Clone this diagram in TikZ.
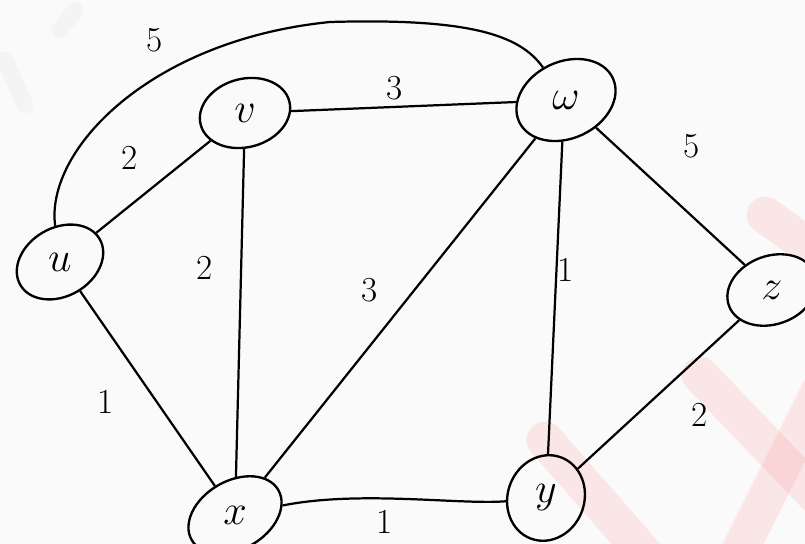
\RequirePackage{fix-cm}
\documentclass[tikz,border=0pt]{standalone}
\usetikzlibrary{shapes.geometric}
\begin{document}
\begin{tikzpicture}[x=0.03cm,y=-0.03cm,
  vtx/.style={draw,ellipse,line width=2pt,inner sep=0pt,minimum width=2.75cm,minimum height=2.05cm,font=\fontsize{36}{38}\selectfont},
  edge/.style={line width=1.9pt},
  wt/.style={font=\fontsize{30}{32}\selectfont},
  mark1/.style={line width=1.1cm,red!60!pink,opacity=0.11,line cap=round},
  mark2/.style={line width=0.5cm,black,opacity=0.025,line cap=round}]
\useasboundingbox (0,0) rectangle (805,544);
\clip (0,0) rectangle (805,544);
\fill[gray!4] (0,0) rectangle (805,544);
% faint watermark strokes
\draw[mark1] (545,440) -- (650,560);
\draw[mark1] (700,375) -- (820,500);
\draw[mark1] (735,560) -- (820,390);
\draw[mark1] (765,215) -- (800,240);
\draw[mark2] (60,30) -- (75,10);
\draw[mark2] (5,60) -- (25,105);
% vertices
\node[vtx,rotate=30] (u) at (60,262) {\rotatebox{-30}{$u$}};
\node[vtx,rotate=15] (v) at (245,113) {\rotatebox{-15}{$v$}};
\node[vtx,rotate=25,minimum width=3.1cm,minimum height=2.3cm] (w) at (566,100) {\rotatebox{-25}{$\omega$}};
\node[vtx,rotate=20] (z) at (772,290) {\rotatebox{-20}{$z$}};
\node[vtx,rotate=30,minimum width=3.0cm] (x) at (235,515) {\rotatebox{-30}{$x$}};
\node[vtx,rotate=70,minimum width=2.6cm,minimum height=2.3cm] (y) at (546,498) {\rotatebox{-70}{$y$}};
% edges
\draw[edge] (u) .. controls (45,150) and (150,40) .. (330,22) .. controls (470,18) and (520,35) .. (w);
\draw[edge] (u) -- (v);
\draw[edge] (v) -- (w);
\draw[edge] (v) -- (x);
\draw[edge] (x) -- (w);
\draw[edge] (w.240) -- (y);
\draw[edge] (w) -- (z);
\draw[edge] (z) -- (y);
\draw[edge] (x) .. controls (360,490) and (460,505) .. (y);
\draw[edge] (u) -- (x);
% weights
\node[wt] (l1) at (155,40) {5};
\node[wt] (l2) at (130,158) {2};
\node[wt] (l3) at (395,88) {3};
\node[wt] (l4) at (205,268) {2};
\node[wt] (l5) at (370,290) {3};
\node[wt] (l6) at (566,270) {1};
\node[wt] (l7) at (692,146) {5};
\node[wt] (l8) at (700,415) {2};
\node[wt] (l9) at (385,522) {1};
\node[wt] (l10) at (106,402) {1};
\end{tikzpicture}
\end{document}
